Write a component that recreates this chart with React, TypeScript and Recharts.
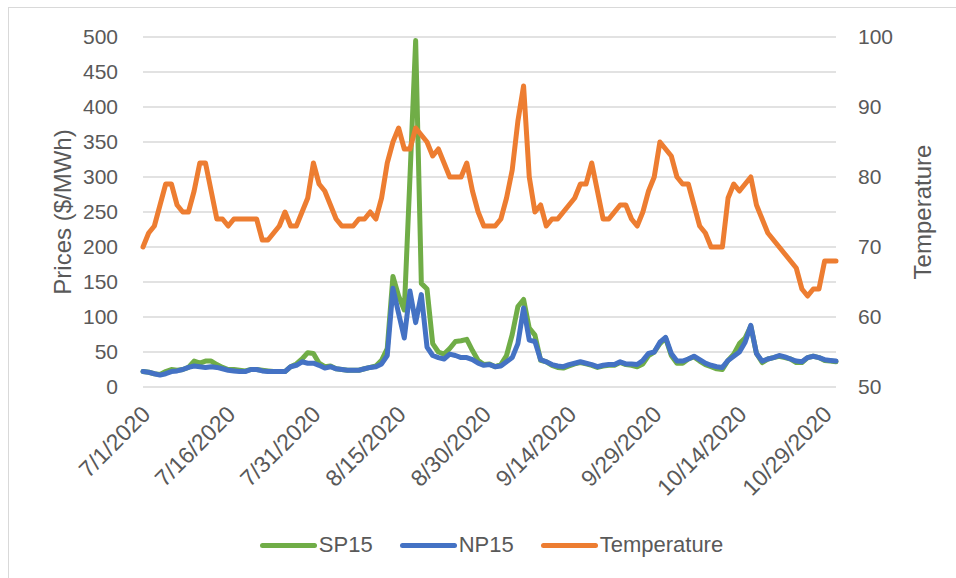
import { CartesianGrid, Line, LineChart, XAxis, YAxis } from "recharts";

// daily series, 7/1/2020 .. 10/31/2020
const dayCount = 123;
const dates = Array.from({ length: dayCount }, (_, i) => {
  const d = new Date(2020, 6, 1 + i);
  return `${d.getMonth() + 1}/${d.getDate()}/${d.getFullYear()}`;
});

const sp15 = [
  22, 21, 19, 18, 22, 25, 24, 25, 28, 37, 34, 37, 37, 32, 28, 25, 25, 24, 23, 25,
  25, 24, 23, 22, 22, 22, 29, 33, 40, 49, 48, 34, 29, 30, 26, 25, 24, 24, 24, 26,
  28, 30, 38, 55, 158, 130, 110, 300, 495, 148, 140, 62, 50, 47, 55, 65, 66, 68, 52, 38,
  32, 33, 29, 32, 45, 75, 115, 125, 84, 74, 38, 36, 31, 28, 27, 30, 33, 35, 33, 31,
  28, 30, 31, 31, 35, 32, 31, 29, 33, 45, 50, 62, 70, 45, 34, 34, 40, 43, 37, 32,
  29, 26, 25, 38, 47, 62, 70, 87, 48, 35, 40, 42, 44, 42, 40, 35, 35, 42, 44, 42,
  38, 37, 36,
];

const np15 = [
  22, 21, 19, 17, 19, 22, 23, 25, 28, 30, 29, 28, 29, 28, 26, 24, 23, 22, 22, 25,
  25, 23, 22, 22, 22, 22, 29, 31, 36, 34, 34, 31, 27, 29, 26, 25, 24, 24, 24, 26,
  28, 29, 33, 45, 141, 105, 70, 137, 92, 132, 57, 45, 42, 40, 47, 45, 42, 42, 39, 34,
  31, 32, 29, 30, 36, 42, 62, 113, 67, 65, 39, 36, 32, 30, 29, 32, 34, 36, 34, 32,
  29, 31, 32, 32, 36, 33, 33, 32, 38, 48, 50, 64, 71, 48, 37, 37, 40, 44, 39, 34,
  31, 29, 28, 38, 44, 50, 64, 88, 48, 37, 40, 42, 45, 43, 40, 37, 36, 42, 44, 42,
  39, 38, 37,
];

const temperature = [
  70, 72, 73, 76, 79, 79, 76, 75, 75, 78, 82, 82, 78, 74, 74, 73, 74, 74, 74, 74,
  74, 71, 71, 72, 73, 75, 73, 73, 75, 77, 82, 79, 78, 76, 74, 73, 73, 73, 74, 74,
  75, 74, 77, 82, 85, 87, 84, 84, 87, 86, 85, 83, 84, 82, 80, 80, 80, 82, 78, 75,
  73, 73, 73, 74, 77, 81, 88, 93, 80, 75, 76, 73, 74, 74, 75, 76, 77, 79, 79, 82,
  78, 74, 74, 75, 76, 76, 74, 73, 75, 78, 80, 85, 84, 83, 80, 79, 79, 76, 73, 72,
  70, 70, 70, 77, 79, 78, 79, 80, 76, 74, 72, 71, 70, 69, 68, 67, 64, 63, 64, 64,
  68, 68, 68,
];

const priceTicks = [0, 50, 100, 150, 200, 250, 300, 350, 400, 450, 500];
const tempTicks = [50, 60, 70, 80, 90, 100];

const legendItems = [
  { name: "SP15", color: "#70AD47" },
  { name: "NP15", color: "#4472C4" },
  { name: "Temperature", color: "#ED7D31" },
];

const FONT = '"Liberation Sans", Arial, sans-serif';
const TEXT = "#595959";

const data = dates.map((date, i) => ({ date, sp15: sp15[i], np15: np15[i], temperature: temperature[i] }));

function DateTick({ x, y, payload }: any) {
  return (
    <g transform={`translate(${x + 3},${y})`}>
      <text transform="rotate(-45)" textAnchor="end" dy="0.35em" fill={TEXT} fontSize={23} fontFamily={FONT}>
        {payload.value}
      </text>
    </g>
  );
}

export default function App() {
  const tickStyle = { fill: TEXT, fontSize: 21, fontFamily: FONT };
  return (
    <div style={{ position: "fixed", left: 0, top: 0, width: 956, height: 578, overflow: "hidden", background: "#fff" }}>
      <div style={{ position: "absolute", left: 8, top: 7, width: 980, height: 640, border: "1px solid #d9d9d9" }} />
      <div style={{ position: "absolute", left: 0, top: 0 }}>
        <LineChart width={956} height={578} data={data} margin={{ top: 37, right: 0, bottom: 91, left: 0 }}>
          <CartesianGrid yAxisId="left" vertical={false} stroke="#d9d9d9" strokeWidth={1.5} />
          <XAxis
            dataKey="date"
            interval={14}
            height={100}
            tickLine={false}
            axisLine={false}
            tickSize={0}
            tickMargin={23}
            tick={<DateTick />}
          />
          <YAxis
            yAxisId="left"
            width={143}
            domain={[0, 500]}
            ticks={priceTicks}
            tickLine={false}
            axisLine={false}
            tickSize={0}
            tickMargin={25}
            tick={tickStyle}
            label={() => (
              <text x={62} y={212} transform="rotate(-90 62 212)" textAnchor="middle" dominantBaseline="central" fill={TEXT} fontSize={24} fontFamily={FONT}>
                Prices ($/MWh)
              </text>
            )}
          />
          <YAxis
            yAxisId="right"
            orientation="right"
            width={120}
            domain={[50, 100]}
            ticks={tempTicks}
            tickLine={false}
            axisLine={false}
            tickSize={0}
            tickMargin={22}
            tick={tickStyle}
            label={() => (
              <text x={922} y={212} transform="rotate(-90 922 212)" textAnchor="middle" dominantBaseline="central" fill={TEXT} fontSize={24} fontFamily={FONT}>
                Temperature
              </text>
            )}
          />
          <Line yAxisId="left" dataKey="sp15" name="SP15" stroke="#70AD47" strokeWidth={5} dot={false} strokeLinejoin="round" strokeLinecap="round" isAnimationActive={false} />
          <Line yAxisId="left" dataKey="np15" name="NP15" stroke="#4472C4" strokeWidth={5} dot={false} strokeLinejoin="round" strokeLinecap="round" isAnimationActive={false} />
          <Line yAxisId="right" dataKey="temperature" name="Temperature" stroke="#ED7D31" strokeWidth={5} dot={false} strokeLinejoin="round" strokeLinecap="round" isAnimationActive={false} />
        </LineChart>
      </div>
      <div style={{ position: "absolute", top: 533, left: 0, width: 983, display: "flex", justifyContent: "center", gap: 27, fontFamily: FONT, fontSize: 22, color: TEXT, lineHeight: "24px" }}>
        {legendItems.map((item) => (
          <span key={item.name} style={{ display: "flex", alignItems: "center" }}>
            <span style={{ width: 57, height: 5, borderRadius: 3, background: item.color, marginRight: 2 }} />
            <span>{item.name}</span>
          </span>
        ))}
      </div>
    </div>
  );
}
